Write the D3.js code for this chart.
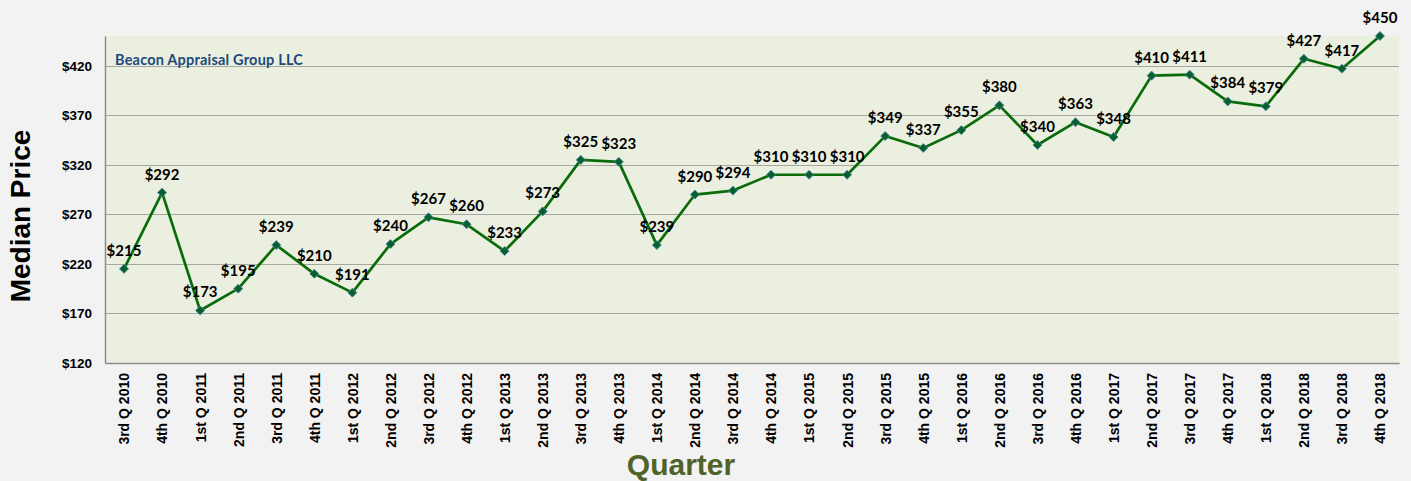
<!DOCTYPE html>
<html>
<head>
<meta charset="utf-8">
<script src="https://cdn.jsdelivr.net/npm/d3@7"></script>
<style>
    html, body { margin: 0; padding: 0; background: #f2f2f2; }
    svg { display: block; }
    .tick-y { font-family: "Liberation Sans", Arial, sans-serif; font-weight: bold; font-size: 13.5px; fill: #000; }
    .tick-x { font-family: "Liberation Sans", Arial, sans-serif; font-weight: bold; font-size: 14px; fill: #000; }
    .value-label { font-family: Lato, Calibri, sans-serif; font-weight: bold; font-size: 15px; fill: #000; }
</style>
</head>
<body>
<svg id="chart"></svg>
<script>
'use strict';

(function () {
    const quarters = [
        '3rd Q 2010', '4th Q 2010',
        '1st Q 2011', '2nd Q 2011', '3rd Q 2011', '4th Q 2011',
        '1st Q 2012', '2nd Q 2012', '3rd Q 2012', '4th Q 2012',
        '1st Q 2013', '2nd Q 2013', '3rd Q 2013', '4th Q 2013',
        '1st Q 2014', '2nd Q 2014', '3rd Q 2014', '4th Q 2014',
        '1st Q 2015', '2nd Q 2015', '3rd Q 2015', '4th Q 2015',
        '1st Q 2016', '2nd Q 2016', '3rd Q 2016', '4th Q 2016',
        '1st Q 2017', '2nd Q 2017', '3rd Q 2017', '4th Q 2017',
        '1st Q 2018', '2nd Q 2018', '3rd Q 2018', '4th Q 2018'
    ];

    const medianPrice = [
        215, 292,
        173, 195, 239, 210,
        191, 240, 267, 260,
        233, 273, 325, 323,
        239, 290, 294, 310,
        310, 310, 349, 337,
        355, 380, 340, 363,
        348, 410, 411, 384,
        379, 427, 417, 450
    ];

    const yTicks = [120, 170, 220, 270, 320, 370, 420];

    const totalWidth = 1411;
    const totalHeight = 481;
    const margin = {top: 36, right: 12, bottom: 118, left: 105};
    const width = totalWidth - margin.left - margin.right;
    const height = totalHeight - margin.top - margin.bottom;

    const svg = d3.select('#chart')
        .attr('width', totalWidth)
        .attr('height', totalHeight);

    const g = svg.append('g')
        .attr('transform', `translate(${margin.left}, ${margin.top})`);

    const x = d3.scalePoint()
        .domain(quarters)
        .range([0, width])
        .padding(0.5);

    const y = d3.scaleLinear()
        .domain([120, 450])
        .range([height, 0]);

    // plot background
    g.append('rect')
        .attr('width', width)
        .attr('height', height)
        .attr('fill', '#ebefdf');

    // gridlines
    g.append('g')
        .selectAll('line')
        .data(yTicks.slice(1))
        .join('line')
        .attr('x1', 0)
        .attr('x2', width)
        .attr('y1', d => Math.round(y(d)) + 0.5)
        .attr('y2', d => Math.round(y(d)) + 0.5)
        .attr('stroke', '#a5a7a0')
        .attr('stroke-width', 1.2);

    // y axis
    const yAxis = g.append('g')
        .call(d3.axisLeft(y)
            .tickValues(yTicks)
            .tickSize(0)
            .tickPadding(13)
            .tickFormat(d => '$' + d));

    yAxis.select('.domain')
        .attr('stroke', '#8c8c8c')
        .attr('stroke-width', 1.5);

    yAxis.selectAll('text')
        .attr('class', 'tick-y')
        .attr('font-family', null)
        .attr('font-size', null);

    // x axis
    const xAxis = g.append('g')
        .attr('transform', `translate(0, ${height})`)
        .call(d3.axisBottom(x)
            .tickSize(0)
            .tickSizeOuter(0));

    xAxis.select('.domain')
        .attr('stroke', '#8c8c8c')
        .attr('stroke-width', 1.5);

    xAxis.selectAll('text')
        .attr('class', 'tick-x')
        .attr('font-family', null)
        .attr('font-size', null)
        .attr('transform', 'rotate(-90)')
        .attr('text-anchor', 'end')
        .attr('x', -10)
        .attr('y', 0)
        .attr('dy', '0.35em');

    // line
    const line = d3.line()
        .x((d, i) => x(quarters[i]))
        .y(d => y(d));

    g.append('path')
        .datum(medianPrice)
        .attr('d', line)
        .attr('fill', 'none')
        .attr('stroke', '#0a6b0a')
        .attr('stroke-width', 2.7)
        .attr('stroke-linejoin', 'round');

    // markers
    g.append('g')
        .selectAll('path')
        .data(medianPrice)
        .join('path')
        .attr('d', d3.symbol(d3.symbolDiamond2, 52))
        .attr('transform', (d, i) => `translate(${x(quarters[i])}, ${y(d)})`)
        .attr('fill', '#08602a')
        .attr('stroke', '#4f81bd')
        .attr('stroke-width', 0.8);

    // value labels
    g.append('g')
        .selectAll('text')
        .data(medianPrice)
        .join('text')
        .attr('class', 'value-label')
        .attr('x', (d, i) => x(quarters[i]))
        .attr('y', d => y(d) - 13)
        .attr('text-anchor', 'middle')
        .text(d => '$' + d);

    // watermark
    g.append('text')
        .attr('x', 10)
        .attr('y', y(420) - 1)
        .attr('font-family', 'Lato, Calibri, sans-serif')
        .attr('font-weight', 'bold')
        .attr('font-size', '14.5px')
        .attr('letter-spacing', '0.2px')
        .attr('fill', '#1f497d')
        .text('Beacon Appraisal Group LLC');

    // axis titles
    svg.append('text')
        .attr('transform', 'translate(30, 216) rotate(-90)')
        .attr('text-anchor', 'middle')
        .attr('font-family', '"Liberation Sans", Arial, sans-serif')
        .attr('font-weight', 'bold')
        .attr('font-size', '28px')
        .attr('fill', '#000')
        .text('Median Price');

    svg.append('text')
        .attr('x', 681)
        .attr('y', 475)
        .attr('text-anchor', 'middle')
        .attr('font-family', '"Liberation Sans", Arial, sans-serif')
        .attr('font-weight', 'bold')
        .attr('font-size', '30px')
        .attr('fill', '#4f6228')
        .text('Quarter');
})();
</script>
</body>
</html>
